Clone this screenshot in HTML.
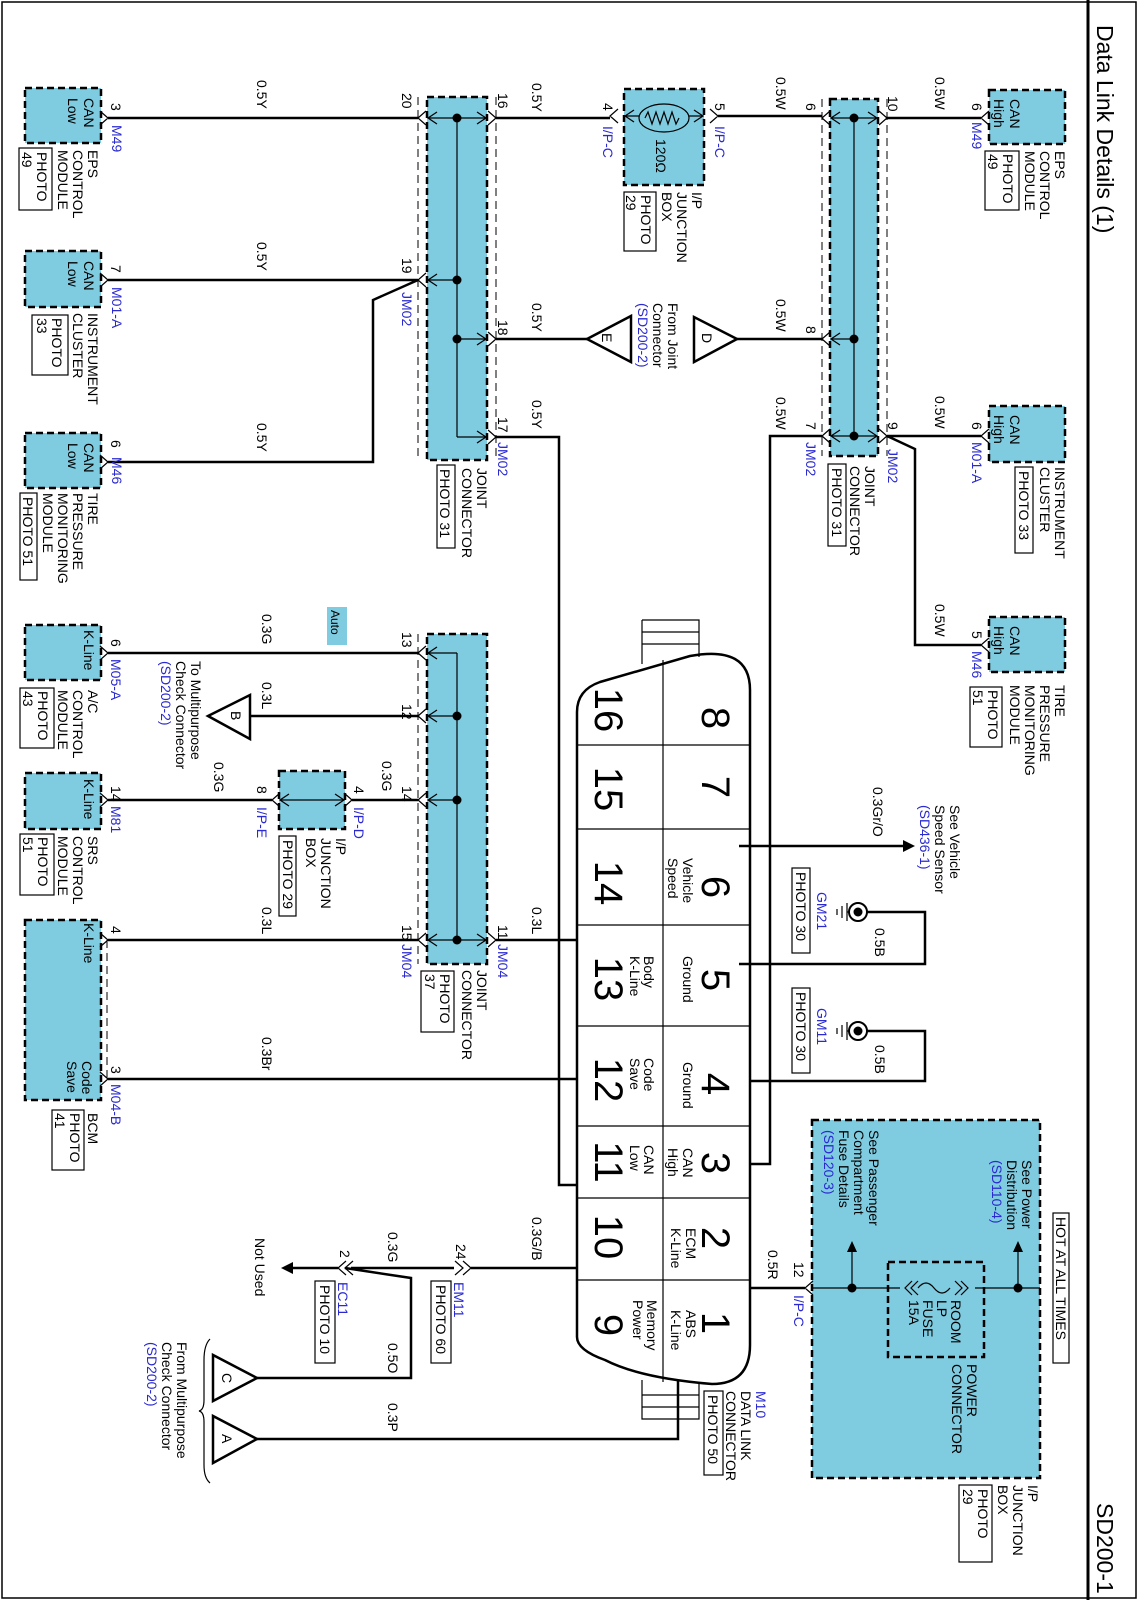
<!DOCTYPE html>
<html><head><meta charset="utf-8"><style>
html,body{margin:0;padding:0;background:#fff}
svg{display:block}
text{font-family:"Liberation Sans",Arial,sans-serif;font-size:14px;fill:#000}
.b{fill:#2a2ad0}
.w{stroke:#000;stroke-width:2.5;fill:none}
.t{stroke:#000;stroke-width:1.2;fill:none}
.bx{fill:#7fcbe0;stroke:#000;stroke-width:2.5;stroke-dasharray:7 4}
.dl{stroke:#000;stroke-width:1;stroke-dasharray:8 5;fill:none}
.big{font-size:40px}
</style></head><body>
<svg width="1138" height="1600" viewBox="0 0 1138 1600" xmlns="http://www.w3.org/2000/svg">
<rect x="2" y="2" width="1134" height="1596" fill="#fff" stroke="#000" stroke-width="1.5"/>
<line x1="1088" y1="0" x2="1088" y2="1600" stroke="#000" stroke-width="3"/>
<text transform="translate(1097,25) rotate(90)" style="font-size:23px">Data Link Details (1)</text>
<text transform="translate(1097,1503) rotate(90)" style="font-size:23px">SD200-1</text>

<!-- boxes -->
<rect class="bx" x="25" y="88" width="76" height="55"/>
<rect class="bx" x="25" y="251" width="76" height="56"/>
<rect class="bx" x="25" y="433" width="76" height="55"/>
<rect class="bx" x="427" y="97" width="60" height="363"/>
<rect class="bx" x="624" y="89" width="80" height="96"/>
<rect class="bx" x="830" y="99" width="48" height="357"/>
<rect class="bx" x="989" y="90" width="76" height="54"/>
<rect class="bx" x="989" y="406" width="76" height="56"/>
<rect class="bx" x="989" y="617" width="76" height="55"/>
<rect class="bx" x="25" y="625" width="76" height="55"/>
<rect class="bx" x="427" y="634" width="60" height="330"/>
<rect class="bx" x="25" y="773" width="76" height="56"/>
<rect class="bx" x="279" y="771" width="66" height="58"/>
<rect class="bx" x="25" y="920" width="76" height="180"/>
<rect class="bx" x="812" y="1120" width="228" height="358"/>
<rect x="888" y="1262" width="96" height="95" fill="none" stroke="#000" stroke-width="2.5" stroke-dasharray="7 4"/>
<rect x="327" y="607" width="20" height="38" fill="#7fcbe0"/>
<text transform="translate(331,610) rotate(90)" style="font-size:12px">Auto</text>

<!-- dashed side lines -->
<line class="dl" x1="418" y1="97" x2="418" y2="460"/>
<line class="dl" x1="496" y1="97" x2="496" y2="460"/>
<line class="dl" x1="822" y1="99" x2="822" y2="456"/>
<line class="dl" x1="887" y1="99" x2="887" y2="456"/>
<line class="dl" x1="418" y1="634" x2="418" y2="964"/>
<line class="dl" x1="107" y1="940" x2="107" y2="1079"/>

<!-- wires -->
<path class="w" d="M108 118H418 M496 118H610 M718 116H822 M887 118H981
M108 280H418 M108 462H373V300L418 280
M496 339H587 M737 339H822
M496 437H559V1185H587
M822 436H770V1164H739
M887 436H981 M887 436L915 449V645H981
M108 653H418 M250 716H418 M108 800H272 M352 800H418
M108 940H418 M496 940H587 M108 1079H587
M739 846H905
M739 964H925V912H867 M739 1081H925V1031H867
M678 1268H471 M454 1268H351 M338 1268H291
M345 1268L411 1278V1378H257
M678 1362V1439H257
M604 1288H805"/>
<path class="t" d="M812 1288H900 M975 1288H1040 M852 1288V1250 M1018 1288V1250"/>
<path d="M852 1241l-5 11h10z M1018 1241l-5 11h10z M915 846l-12 -6v12z M281 1268l12 -6v12z" fill="#000"/>

<!-- fuse -->
<path class="t" d="M912 1281l-7 7l7 7 M918 1281l-7 7l7 7 M955 1281l7 7l-7 7 M961 1281l7 7l-7 7 M918 1288 Q926 1278 934 1288 T950 1288"/>

<!-- chevrons -->
<path class="t" stroke-width="1.5" d="
M426 111L418 118L426 125 M426 273L418 280L426 287
M426 646L418 653L426 660 M426 709L418 716L426 723 M426 793L418 800L426 807 M426 933L418 940L426 947
M618 109L610 116L618 123
M830 111L822 118L830 125 M830 332L822 339L830 346 M830 429L822 436L830 443
M989 111L981 118L989 125 M989 429L981 436L989 443 M989 638L981 645L989 652
M280 793L272 800L280 807 M813 1281L805 1288L813 1295
M100 111L108 118L100 125 M100 273L108 280L100 287 M100 455L108 462L100 469
M100 646L108 653L100 660 M100 793L108 800L100 807 M100 933L108 940L100 947 M100 1072L108 1079L100 1086
M488 111L496 118L488 125 M488 332L496 339L488 346 M488 430L496 437L488 444
M710 109L718 116L710 123 M879 111L887 118L879 125 M879 429L887 436L879 443
M488 933L496 940L488 947 M344 793L352 800L344 807
M463 1261L471 1268L463 1275 M455 1261L463 1268L455 1275
M346 1261L338 1268L346 1275 M353 1261L345 1268L353 1275"/>

<!-- joint internals -->
<path class="t" d="M457 118V437 M428 118H457 M428 280H457 M457 118H486 M457 339H486 M457 437H486
M437 112L428 118L437 124 M437 274L428 280L437 286 M477 112L486 118L477 124 M477 333L486 339L477 345 M477 431L486 437L477 443
M854 118V436 M831 118H877 M831 339H854 M831 436H877
M840 112L831 118L840 124 M840 333L831 339L840 345 M840 430L831 436L840 442 M868 112L877 118L868 124 M868 430L877 436L868 442
M457 653V940 M428 653H457 M428 716H457 M428 800H457 M428 940H486
M437 647L428 653L437 659 M437 710L428 716L437 722 M437 794L428 800L437 806 M437 934L428 940L437 946 M477 934L486 940L477 946
M280 800H344 M289 794L280 800L289 806 M335 794L344 800L335 806
M625 116H703 M634 110L625 116L634 122 M694 110L703 116L694 122"/>
<ellipse cx="664" cy="118" rx="25" ry="14" fill="#7fcbe0" stroke="#000" stroke-width="1.2"/>
<path class="t" d="M645 118l3-6l4 12l4-12l4 12l4-12l4 12l4-12l4 12l3-6"/>
<text transform="translate(656,139) rotate(90)">120Ω</text>

<!-- dots -->
<g fill="#000">
<circle cx="457" cy="118" r="4.5"/><circle cx="457" cy="280" r="4.5"/><circle cx="457" cy="339" r="4.5"/>
<circle cx="854" cy="118" r="4.5"/><circle cx="854" cy="339" r="4.5"/><circle cx="854" cy="436" r="4.5"/>
<circle cx="457" cy="716" r="4.5"/><circle cx="457" cy="800" r="4.5"/><circle cx="457" cy="940" r="4.5"/>
<circle cx="739" cy="846" r="4.5"/><circle cx="739" cy="964" r="4.5"/><circle cx="739" cy="1081" r="4.5"/><circle cx="739" cy="1164" r="4.5"/>
<circle cx="587" cy="940" r="4.5"/><circle cx="587" cy="1079" r="4.5"/><circle cx="587" cy="1185" r="4.5"/>
<circle cx="678" cy="1268" r="4.5"/><circle cx="604" cy="1288" r="4.5"/><circle cx="678" cy="1362" r="4.5"/>
<circle cx="852" cy="1288" r="4.5"/><circle cx="1018" cy="1288" r="4.5"/>
</g>

<!-- triangles -->
<path class="w" stroke-width="2.2" d="M587 339L631 316V362Z M737 339L694 317V362Z M208 716L250 695V739Z M257 1378L213 1355V1401Z M257 1439L213 1416V1463Z"/>
<text transform="translate(602,333) rotate(90)">E</text>
<text transform="translate(702,333) rotate(90)">D</text>
<text transform="translate(231,711) rotate(90)">B</text>
<text transform="translate(222,1373) rotate(90)">C</text>
<text transform="translate(222,1434) rotate(90)">A</text>
<path class="t" d="M210 1339Q204 1345 204 1360V1400Q204 1410 199 1411Q204 1412 204 1422V1465Q204 1478 210 1483"/>

<!-- ground symbols -->
<g>
<circle cx="858" cy="912" r="9" fill="#fff" stroke="#000" stroke-width="2"/><circle cx="858" cy="912" r="4.5"/>
<path class="t" stroke-width="2" d="M849 912H847 M847 903V921 M842 906V918 M837 909V915"/>
<circle cx="858" cy="1031" r="9" fill="#fff" stroke="#000" stroke-width="2"/><circle cx="858" cy="1031" r="4.5"/>
<path class="t" stroke-width="2" d="M849 1031H847 M847 1022V1040 M842 1025V1037 M837 1028V1034"/>
</g>

<!-- DLC -->
<path d="M577 1337L577 712Q577 690 600 682L690 656Q750 645 750 690L750 1345Q750 1384 712 1384Q640 1378 605 1360Q577 1350 577 1337Z" fill="#fff" stroke="#000" stroke-width="2.5"/>
<path class="t" d="M663 660V1382 M577 745H750 M577 829H750 M577 925H750 M577 1026H750 M577 1126H750 M577 1198H750 M577 1280H750"/>
<path class="t" d="M642 620H699V657 M642 620V664 M642 632H699 M642 644H699 M642 1380V1419H699V1382 M642 1395H699 M642 1407H699"/>
<path class="w" d="M739 846H750 M739 964H750"/>
<g class="big">
<text class="big" transform="translate(702,718) rotate(90)" text-anchor="middle">8</text>
<text class="big" transform="translate(702,787) rotate(90)" text-anchor="middle">7</text>
<text class="big" transform="translate(702,887) rotate(90)" text-anchor="middle">6</text>
<text class="big" transform="translate(702,980) rotate(90)" text-anchor="middle">5</text>
<text class="big" transform="translate(702,1084) rotate(90)" text-anchor="middle">4</text>
<text class="big" transform="translate(702,1163) rotate(90)" text-anchor="middle">3</text>
<text class="big" transform="translate(702,1238) rotate(90)" text-anchor="middle">2</text>
<text class="big" transform="translate(702,1323) rotate(90)" text-anchor="middle">1</text>
<text class="big" transform="translate(595,710) rotate(90)" text-anchor="middle">16</text>
<text class="big" transform="translate(595,789) rotate(90)" text-anchor="middle">15</text>
<text class="big" transform="translate(595,883) rotate(90)" text-anchor="middle">14</text>
<text class="big" transform="translate(595,979) rotate(90)" text-anchor="middle">13</text>
<text class="big" transform="translate(595,1080) rotate(90)" text-anchor="middle">12</text>
<text class="big" transform="translate(595,1162) rotate(90)" text-anchor="middle">11</text>
<text class="big" transform="translate(595,1237) rotate(90)" text-anchor="middle">10</text>
<text class="big" transform="translate(595,1325) rotate(90)" text-anchor="middle">9</text>
</g>
<g style="font-size:12px">
<text transform="translate(683,858) rotate(90)">Vehicle<tspan x="0" dy="15">Speed</tspan></text>
<text transform="translate(683,956) rotate(90)">Ground</text>
<text transform="translate(683,1062) rotate(90)">Ground</text>
<text transform="translate(683,1148) rotate(90)">CAN<tspan x="0" dy="15">High</tspan></text>
<text transform="translate(686,1228) rotate(90)">ECM<tspan x="0" dy="15">K-Line</tspan></text>
<text transform="translate(686,1310) rotate(90)">ABS<tspan x="0" dy="15">K-Line</tspan></text>
<text transform="translate(644,956) rotate(90)">Body<tspan x="0" dy="14">K-Line</tspan></text>
<text transform="translate(644,1058) rotate(90)">Code<tspan x="0" dy="14">Save</tspan></text>
<text transform="translate(644,1145) rotate(90)">CAN<tspan x="0" dy="14">Low</tspan></text>
<text transform="translate(647,1300) rotate(90)">Memory<tspan x="0" dy="14">Power</tspan></text>
</g>

<!-- box inner labels -->
<text transform="translate(84,98) rotate(90)">CAN<tspan x="0" dy="16">Low</tspan></text>
<text transform="translate(84,261) rotate(90)">CAN<tspan x="0" dy="16">Low</tspan></text>
<text transform="translate(84,443) rotate(90)">CAN<tspan x="0" dy="16">Low</tspan></text>
<text transform="translate(1010,99) rotate(90)">CAN<tspan x="0" dy="16">High</tspan></text>
<text transform="translate(1010,415) rotate(90)">CAN<tspan x="0" dy="16">High</tspan></text>
<text transform="translate(1010,626) rotate(90)">CAN<tspan x="0" dy="16">High</tspan></text>
<text transform="translate(84,630) rotate(90)">K-Line</text>
<text transform="translate(84,779) rotate(90)">K-Line</text>
<text transform="translate(84,923) rotate(90)">K-Line</text>
<text transform="translate(82,1061) rotate(90)">Code<tspan x="0" dy="15">Save</tspan></text>

<!-- module labels -->
<text transform="translate(88,150) rotate(90)">EPS<tspan x="0" dy="15">CONTROL</tspan><tspan x="0" dy="15">MODULE</tspan></text>
<rect x="19" y="148" width="33" height="62" fill="none" stroke="#000" stroke-width="1.2"/>
<text transform="translate(37,152) rotate(90)">PHOTO<tspan x="0" dy="15">49</tspan></text>
<text transform="translate(88,313) rotate(90)">INSTRUMENT<tspan x="0" dy="15">CLUSTER</tspan></text>
<rect x="32" y="315" width="36" height="60" fill="none" stroke="#000" stroke-width="1.2"/>
<text transform="translate(52,318) rotate(90)">PHOTO<tspan x="0" dy="15">33</tspan></text>
<text transform="translate(88,493) rotate(90)">TIRE<tspan x="0" dy="15">PRESSURE</tspan><tspan x="0" dy="15">MONITORING</tspan><tspan x="0" dy="15">MODULE</tspan></text>
<rect x="20" y="493" width="17" height="87" fill="none" stroke="#000" stroke-width="1.2"/>
<text transform="translate(23,497) rotate(90)">PHOTO 51</text>
<text transform="translate(477,468) rotate(90)">JOINT<tspan x="0" dy="15">CONNECTOR</tspan></text>
<rect x="437" y="465" width="18" height="83" fill="none" stroke="#000" stroke-width="1.2"/>
<text transform="translate(440,469) rotate(90)">PHOTO 31</text>
<text transform="translate(692,192) rotate(90)">I/P<tspan x="0" dy="15">JUNCTION</tspan><tspan x="0" dy="15">BOX</tspan></text>
<rect x="624" y="192" width="32" height="59" fill="none" stroke="#000" stroke-width="1.2"/>
<text transform="translate(641,195) rotate(90)">PHOTO<tspan x="0" dy="15">29</tspan></text>
<text transform="translate(865,466) rotate(90)">JOINT<tspan x="0" dy="15">CONNECTOR</tspan></text>
<rect x="828" y="464" width="18" height="82" fill="none" stroke="#000" stroke-width="1.2"/>
<text transform="translate(832,468) rotate(90)">PHOTO 31</text>
<text transform="translate(1055,151) rotate(90)">EPS<tspan x="0" dy="15">CONTROL</tspan><tspan x="0" dy="15">MODULE</tspan></text>
<rect x="985" y="151" width="34" height="59" fill="none" stroke="#000" stroke-width="1.2"/>
<text transform="translate(1003,154) rotate(90)">PHOTO<tspan x="0" dy="15">49</tspan></text>
<text transform="translate(1055,467) rotate(90)">INSTRUMENT<tspan x="0" dy="15">CLUSTER</tspan></text>
<rect x="1015" y="467" width="18" height="86" fill="none" stroke="#000" stroke-width="1.2"/>
<text transform="translate(1019,471) rotate(90)">PHOTO 33</text>
<text transform="translate(1055,685) rotate(90)">TIRE<tspan x="0" dy="15">PRESSURE</tspan><tspan x="0" dy="15">MONITORING</tspan><tspan x="0" dy="15">MODULE</tspan></text>
<rect x="970" y="687" width="32" height="60" fill="none" stroke="#000" stroke-width="1.2"/>
<text transform="translate(988,690) rotate(90)">PHOTO<tspan x="0" dy="15">51</tspan></text>
<text transform="translate(88,690) rotate(90)">A/C<tspan x="0" dy="15">CONTROL</tspan><tspan x="0" dy="15">MODULE</tspan></text>
<rect x="20" y="688" width="34" height="60" fill="none" stroke="#000" stroke-width="1.2"/>
<text transform="translate(38,691) rotate(90)">PHOTO<tspan x="0" dy="15">43</tspan></text>
<text transform="translate(88,836) rotate(90)">SRS<tspan x="0" dy="15">CONTROL</tspan><tspan x="0" dy="15">MODULE</tspan></text>
<rect x="20" y="834" width="34" height="61" fill="none" stroke="#000" stroke-width="1.2"/>
<text transform="translate(38,837) rotate(90)">PHOTO<tspan x="0" dy="15">51</tspan></text>
<text transform="translate(336,838) rotate(90)">I/P<tspan x="0" dy="15">JUNCTION</tspan><tspan x="0" dy="15">BOX</tspan></text>
<rect x="279" y="836" width="17" height="80" fill="none" stroke="#000" stroke-width="1.2"/>
<text transform="translate(283,840) rotate(90)">PHOTO 29</text>
<text transform="translate(88,1113) rotate(90)">BCM</text>
<rect x="52" y="1110" width="32" height="60" fill="none" stroke="#000" stroke-width="1.2"/>
<text transform="translate(70,1113) rotate(90)">PHOTO<tspan x="0" dy="15">41</tspan></text>
<text transform="translate(477,970) rotate(90)">JOINT<tspan x="0" dy="15">CONNECTOR</tspan></text>
<rect x="421" y="971" width="33" height="61" fill="none" stroke="#000" stroke-width="1.2"/>
<text transform="translate(440,974) rotate(90)">PHOTO<tspan x="0" dy="15">37</tspan></text>
<text transform="translate(668,303) rotate(90)">From Joint<tspan x="0" dy="15">Connector</tspan><tspan x="0" dy="15" class="b">(SD200-2)</tspan></text>
<text transform="translate(191,661) rotate(90)">To Multipurpose<tspan x="0" dy="15">Check Connector</tspan><tspan x="0" dy="15" class="b">(SD200-2)</tspan></text>
<text transform="translate(177,1342) rotate(90)">From Multipurpose<tspan x="0" dy="15">Check Connector</tspan><tspan x="0" dy="15" class="b">(SD200-2)</tspan></text>
<text transform="translate(950,805) rotate(90)">See Vehicle<tspan x="0" dy="15">Speed Sensor</tspan><tspan x="0" dy="15" class="b">(SD436-1)</tspan></text>
<text transform="translate(817,892) rotate(90)" class="b">GM21</text>
<rect x="792" y="868" width="18" height="85" fill="none" stroke="#000" stroke-width="1.2"/>
<text transform="translate(796,872) rotate(90)">PHOTO 30</text>
<text transform="translate(817,1008) rotate(90)" class="b">GM11</text>
<rect x="792" y="988" width="18" height="85" fill="none" stroke="#000" stroke-width="1.2"/>
<text transform="translate(796,992) rotate(90)">PHOTO 30</text>
<rect x="1053" y="1213" width="16" height="150" fill="none" stroke="#000" stroke-width="1.2"/>
<text transform="translate(1056,1217) rotate(90)">HOT AT ALL TIMES</text>
<text transform="translate(1022,1160) rotate(90)">See Power<tspan x="0" dy="15">Distribution</tspan><tspan x="0" dy="15" class="b">(SD110-4)</tspan></text>
<text transform="translate(869,1130) rotate(90)">See Passenger<tspan x="0" dy="15">Compartment</tspan><tspan x="0" dy="15">Fuse Details</tspan><tspan x="0" dy="15" class="b">(SD120-3)</tspan></text>
<text transform="translate(951,1300) rotate(90)">ROOM<tspan x="0" dy="14">LP</tspan><tspan x="0" dy="14">FUSE</tspan><tspan x="0" dy="14">15A</tspan></text>
<text transform="translate(967,1364) rotate(90)">POWER<tspan x="0" dy="15">CONNECTOR</tspan></text>
<text transform="translate(1028,1485) rotate(90)">I/P<tspan x="0" dy="15">JUNCTION</tspan><tspan x="0" dy="15">BOX</tspan></text>
<rect x="959" y="1485" width="33" height="77" fill="none" stroke="#000" stroke-width="1.2"/>
<text transform="translate(978,1489) rotate(90)">PHOTO<tspan x="0" dy="15">29</tspan></text>
<text transform="translate(756,1391) rotate(90)"><tspan class="b">M10</tspan><tspan x="0" dy="15">DATA LINK</tspan><tspan x="0" dy="15">CONNECTOR</tspan></text>
<rect x="704" y="1391" width="19" height="84" fill="none" stroke="#000" stroke-width="1.2"/>
<text transform="translate(708,1395) rotate(90)">PHOTO 50</text>
<text transform="translate(255,1238) rotate(90)">Not Used</text>
<text transform="translate(454,1282) rotate(90)" class="b">EM11</text>
<rect x="431" y="1281" width="20" height="82" fill="none" stroke="#000" stroke-width="1.2"/>
<text transform="translate(436,1285) rotate(90)">PHOTO 60</text>
<text transform="translate(338,1282) rotate(90)" class="b">EC11</text>
<rect x="315" y="1281" width="20" height="82" fill="none" stroke="#000" stroke-width="1.2"/>
<text transform="translate(320,1285) rotate(90)">PHOTO 10</text>

<!-- pin numbers and codes -->
<text transform="translate(111,103) rotate(90)">3</text><text transform="translate(112,125) rotate(90)" class="b">M49</text>
<text transform="translate(111,265) rotate(90)">7</text><text transform="translate(112,287) rotate(90)" class="b">M01-A</text>
<text transform="translate(111,440) rotate(90)">6</text><text transform="translate(112,457) rotate(90)" class="b">M46</text>
<text transform="translate(402,93) rotate(90)">20</text>
<text transform="translate(402,258) rotate(90)">19</text><text transform="translate(402,292) rotate(90)" class="b">JM02</text>
<text transform="translate(498,93) rotate(90)">16</text>
<text transform="translate(498,320) rotate(90)">18</text>
<text transform="translate(498,417) rotate(90)">17</text><text transform="translate(498,442) rotate(90)" class="b">JM02</text>
<text transform="translate(603,103) rotate(90)">4</text><text transform="translate(603,126) rotate(90)" class="b">I/P-C</text>
<text transform="translate(715,103) rotate(90)">5</text><text transform="translate(715,126) rotate(90)" class="b">I/P-C</text>
<text transform="translate(806,103) rotate(90)">6</text>
<text transform="translate(888,96) rotate(90)">10</text>
<text transform="translate(972,103) rotate(90)">6</text><text transform="translate(972,122) rotate(90)" class="b">M49</text>
<text transform="translate(806,326) rotate(90)">8</text>
<text transform="translate(806,422) rotate(90)">7</text><text transform="translate(806,442) rotate(90)" class="b">JM02</text>
<text transform="translate(888,422) rotate(90)">9</text><text transform="translate(888,449) rotate(90)" class="b">JM02</text>
<text transform="translate(972,422) rotate(90)">6</text><text transform="translate(972,442) rotate(90)" class="b">M01-A</text>
<text transform="translate(972,631) rotate(90)">5</text><text transform="translate(972,651) rotate(90)" class="b">M46</text>
<text transform="translate(111,639) rotate(90)">6</text><text transform="translate(111,659) rotate(90)" class="b">M05-A</text>
<text transform="translate(402,632) rotate(90)">13</text>
<text transform="translate(402,704) rotate(90)">12</text>
<text transform="translate(402,786) rotate(90)">14</text>
<text transform="translate(111,786) rotate(90)">14</text><text transform="translate(111,806) rotate(90)" class="b">M81</text>
<text transform="translate(257,786) rotate(90)">8</text><text transform="translate(257,807) rotate(90)" class="b">I/P-E</text>
<text transform="translate(354,786) rotate(90)">4</text><text transform="translate(354,807) rotate(90)" class="b">I/P-D</text>
<text transform="translate(111,926) rotate(90)">4</text>
<text transform="translate(402,925) rotate(90)">15</text><text transform="translate(402,944) rotate(90)" class="b">JM04</text>
<text transform="translate(498,925) rotate(90)">11</text><text transform="translate(498,944) rotate(90)" class="b">JM04</text>
<text transform="translate(111,1066) rotate(90)">3</text><text transform="translate(111,1084) rotate(90)" class="b">M04-B</text>
<text transform="translate(794,1262) rotate(90)">12</text><text transform="translate(794,1295) rotate(90)" class="b">I/P-C</text>
<text transform="translate(456,1244) rotate(90)">24</text>
<text transform="translate(340,1250) rotate(90)">2</text>

<!-- wire labels -->
<text transform="translate(257,80) rotate(90)">0.5Y</text>
<text transform="translate(257,242) rotate(90)">0.5Y</text>
<text transform="translate(257,423) rotate(90)">0.5Y</text>
<text transform="translate(532,83) rotate(90)">0.5Y</text>
<text transform="translate(532,303) rotate(90)">0.5Y</text>
<text transform="translate(532,400) rotate(90)">0.5Y</text>
<text transform="translate(776,77) rotate(90)">0.5W</text>
<text transform="translate(776,299) rotate(90)">0.5W</text>
<text transform="translate(776,397) rotate(90)">0.5W</text>
<text transform="translate(935,77) rotate(90)">0.5W</text>
<text transform="translate(935,396) rotate(90)">0.5W</text>
<text transform="translate(935,604) rotate(90)">0.5W</text>
<text transform="translate(262,614) rotate(90)">0.3G</text>
<text transform="translate(262,682) rotate(90)">0.3L</text>
<text transform="translate(214,762) rotate(90)">0.3G</text>
<text transform="translate(382,761) rotate(90)">0.3G</text>
<text transform="translate(262,907) rotate(90)">0.3L</text>
<text transform="translate(532,907) rotate(90)">0.3L</text>
<text transform="translate(262,1037) rotate(90)">0.3Br</text>
<text transform="translate(873,787) rotate(90)">0.3Gr/O</text>
<text transform="translate(875,928) rotate(90)">0.5B</text>
<text transform="translate(875,1045) rotate(90)">0.5B</text>
<text transform="translate(532,1217) rotate(90)">0.3G/B</text>
<text transform="translate(388,1232) rotate(90)">0.3G</text>
<text transform="translate(768,1250) rotate(90)">0.5R</text>
<text transform="translate(388,1343) rotate(90)">0.5O</text>
<text transform="translate(388,1403) rotate(90)">0.3P</text>
</svg>
</body></html>
